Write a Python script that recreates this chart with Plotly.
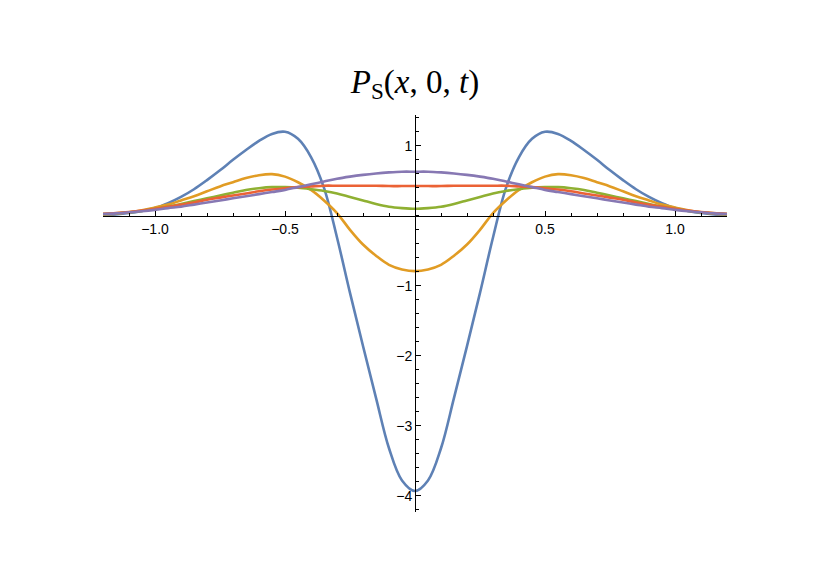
import plotly.graph_objects as go

x = [-1.2, -1.15, -1.1, -1.05, -1.0, -0.95, -0.9, -0.85, -0.8, -0.75, -0.7, -0.65, -0.6, -0.55, -0.5,
     -0.45, -0.4, -0.35, -0.3, -0.25, -0.2, -0.15, -0.1, -0.05, 0.0,
     0.05, 0.1, 0.15, 0.2, 0.25, 0.3, 0.35, 0.4, 0.45, 0.5, 0.55, 0.6, 0.65, 0.7, 0.75,
     0.8, 0.85, 0.9, 0.95, 1.0, 1.05, 1.1, 1.15, 1.2]

blue = [0.01, 0.02, 0.04, 0.07, 0.11, 0.18, 0.27, 0.38, 0.51, 0.65, 0.80, 0.94, 1.07, 1.17, 1.20,
        1.10, 0.84, 0.40, -0.31, -1.10, -1.86, -2.60, -3.32, -3.78, -3.93,
        -3.78, -3.32, -2.60, -1.86, -1.10, -0.31, 0.40, 0.84, 1.10, 1.20, 1.17, 1.07, 0.94, 0.80, 0.65,
        0.51, 0.38, 0.27, 0.18, 0.11, 0.07, 0.04, 0.02, 0.01]

orange = [0.02, 0.03, 0.05, 0.08, 0.12, 0.16, 0.22, 0.28, 0.35, 0.42, 0.48, 0.54, 0.58, 0.595, 0.56,
          0.48, 0.37, 0.22, 0.04, -0.20, -0.41, -0.57, -0.70, -0.765, -0.79,
          -0.765, -0.70, -0.57, -0.41, -0.20, 0.04, 0.22, 0.37, 0.48, 0.56, 0.595, 0.58, 0.54, 0.48, 0.42,
          0.35, 0.28, 0.22, 0.16, 0.12, 0.08, 0.05, 0.03, 0.02]

green = [0.025, 0.035, 0.05, 0.07, 0.10, 0.13, 0.17, 0.21, 0.25, 0.29, 0.33, 0.37, 0.395, 0.41, 0.41,
         0.40, 0.38, 0.355, 0.32, 0.27, 0.22, 0.17, 0.13, 0.11, 0.10,
         0.11, 0.13, 0.17, 0.22, 0.27, 0.32, 0.355, 0.38, 0.40, 0.41, 0.41, 0.395, 0.37, 0.33, 0.29,
         0.25, 0.21, 0.17, 0.13, 0.10, 0.07, 0.05, 0.035, 0.025]

red = [0.03, 0.04, 0.055, 0.075, 0.10, 0.13, 0.16, 0.19, 0.23, 0.26, 0.29, 0.32, 0.35, 0.375, 0.395,
       0.41, 0.42, 0.43, 0.43, 0.43, 0.43, 0.43, 0.425, 0.425, 0.425,
       0.425, 0.425, 0.43, 0.43, 0.43, 0.43, 0.43, 0.42, 0.41, 0.395, 0.375, 0.35, 0.32, 0.29, 0.26,
       0.23, 0.19, 0.16, 0.13, 0.10, 0.075, 0.055, 0.04, 0.03]

purple = [0.025, 0.035, 0.05, 0.065, 0.085, 0.11, 0.13, 0.16, 0.19, 0.22, 0.25, 0.28, 0.31, 0.34, 0.37,
          0.41, 0.45, 0.49, 0.53, 0.56, 0.585, 0.605, 0.62, 0.63, 0.63,
          0.63, 0.62, 0.605, 0.585, 0.56, 0.53, 0.49, 0.45, 0.41, 0.37, 0.34, 0.31, 0.28, 0.25, 0.22,
          0.19, 0.16, 0.13, 0.11, 0.085, 0.065, 0.05, 0.035, 0.025]

series = [blue, orange, green, red, purple]
colors = ["#5E81B5", "#E19C24", "#8FB032", "#EB6235", "#8778B3"]

x_tickvals = [-1.0, -0.5, 0.5, 1.0]
x_ticktext = ["\u22121.0", "\u22120.5", "0.5", "1.0"]
y_tickvals = [1, -1, -2, -3, -4]
y_ticktext = ["1", "\u22121", "\u22122", "\u22123", "\u22124"]

xr = [-1.2, 1.2]
yr = [-4.23, 1.44]

fig = go.Figure()
for ys, c in zip(series, colors):
    fig.add_trace(go.Scatter(x=x, y=ys, mode="lines", line=dict(color=c, width=2.6, shape="spline", smoothing=1.0),
                             showlegend=False, hoverinfo="skip"))

y0_frac = (0 - yr[0]) / (yr[1] - yr[0])
x0_frac = (0 - xr[0]) / (xr[1] - xr[0])

fig.update_layout(
    width=830, height=587,
    margin=dict(l=103, r=103, t=115, b=75, autoexpand=False),
    paper_bgcolor="white", plot_bgcolor="white",
    title=dict(text="<i>P</i><sub>S</sub>(<i>x</i>, 0, <i>t</i>)", x=0.5, xanchor="center",
               y=0.862, yanchor="middle", automargin=False,
               font=dict(family="Liberation Serif", size=33, color="black")),
    xaxis=dict(range=xr, anchor="free", position=y0_frac, showgrid=False, zeroline=False,
               automargin=False,
               showline=True, linecolor="black", linewidth=1,
               ticks="inside", ticklen=5, tickcolor="black", tickwidth=1,
               tickvals=x_tickvals, ticktext=x_ticktext,
               minor=dict(ticks="inside", ticklen=3, tickcolor="black", dtick=0.1, tick0=0, showgrid=False),
               tickfont=dict(family="Liberation Sans", size=14, color="black")),
    yaxis=dict(range=yr, anchor="free", position=x0_frac, showgrid=False, zeroline=False,
               automargin=False,
               showline=True, linecolor="black", linewidth=1,
               ticks="inside", ticklen=5, tickcolor="black", tickwidth=1,
               tickvals=y_tickvals, ticktext=y_ticktext,
               minor=dict(ticks="inside", ticklen=3, tickcolor="black", dtick=0.2, tick0=0, showgrid=False),
               tickfont=dict(family="Liberation Sans", size=14, color="black")),
)

fig.write_html("out.html", config={"displayModeBar": False},
               post_script="document.body.style.margin='0px';document.body.style.overflow='hidden';")
